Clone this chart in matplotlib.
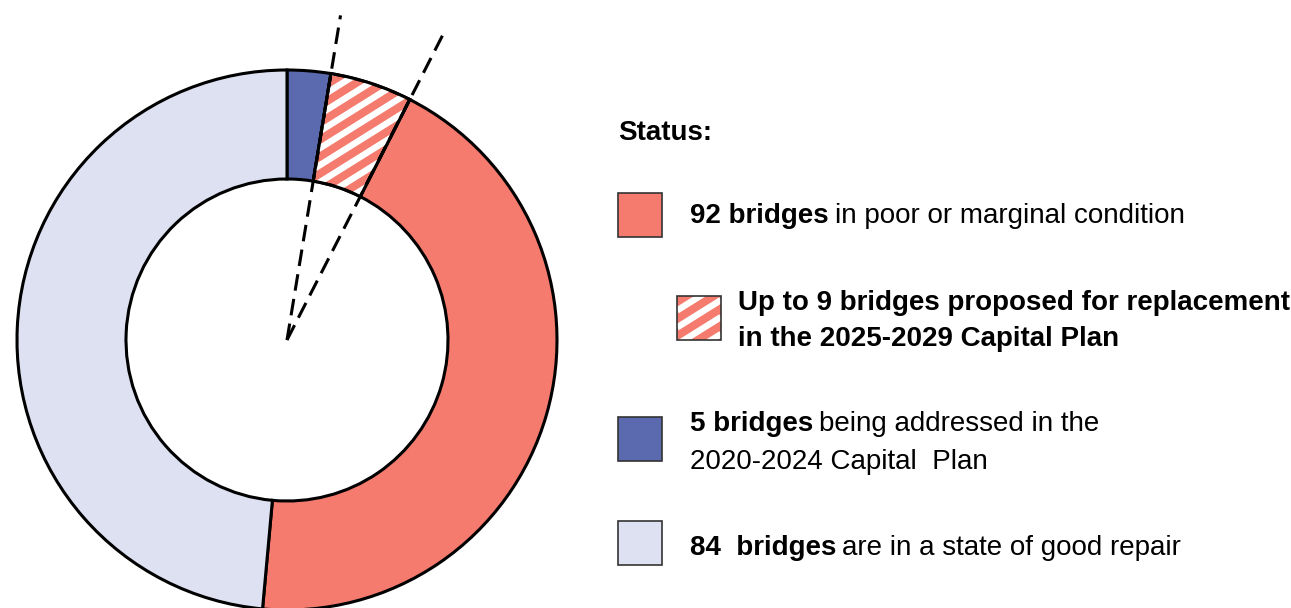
import matplotlib
matplotlib.use('Agg')
import numpy as np
import matplotlib.pyplot as plt
from matplotlib.patches import Wedge, Rectangle

W, H = 1291, 608

# wedge sizes as drawn (clockwise from 12 o'clock)
segments = ['addressed 2020-2024', 'proposed 2025-2029', 'poor or marginal', 'good repair']
sizes = [4.5, 8.5, 76, 84]
colors = ['#5B6AAE', '#F47B6E', '#F47B6E', '#DDE1F2']

# legend entries: (bold part, regular part, second line)
legend_rows = [
    ('92 bridges', 'in poor or marginal condition', None),
    ('Up to 9 bridges proposed for replacement', '', 'in the 2025-2029 Capital Plan'),
    ('5 bridges', 'being addressed in the', '2020-2024 Capital  Plan'),
    ('84  bridges', 'are in a state of good repair', None),
]

plt.rcParams['lines.scale_dashes'] = False
FONT = ['Liberation Sans', 'DejaVu Sans']

fig = plt.figure(figsize=(W / 100, H / 100), dpi=100)
ax = fig.add_axes([0, 0, 1, 1])

cx, cy = 287, H - 340
r_out, r_in = 270, 161
EDGE = 2.2

wedges, _ = ax.pie(sizes, colors=colors, radius=r_out, center=(cx, cy),
                   startangle=90, counterclock=False,
                   wedgeprops=dict(width=r_out - r_in, edgecolor='black', linewidth=EDGE))


def stripes(patch, x0, x1, y0, y1, period=17, angle=32, lw=4.6, phase=0):
    # white diagonal stripes clipped to a patch
    slope = np.tan(np.deg2rad(angle))
    for c in np.arange(y0 - slope * (x1 - x0) + phase, y1 + period, period):
        ln, = ax.plot([x0, x1], [c, c + slope * (x1 - x0)], color='white',
                      lw=lw, solid_capstyle='butt', zorder=2)
        ln.set_clip_path(patch)


# hatched wedge: white stripes on salmon, then a black outline on top
hw = wedges[1]
stripes(hw, cx, cx + r_out, cy, cy + r_out)
ax.add_patch(Wedge(hw.center, hw.r, hw.theta1, hw.theta2, width=hw.width,
                   fill=False, edgecolor='black', linewidth=EDGE, zorder=3))

# dashed lines along the boundaries of the hatched wedge
total = sum(sizes)
for cum, length in [(sizes[0], 329), (sizes[0] + sizes[1], 347)]:
    ang = np.deg2rad(90 - cum / total * 360)
    ax.plot([cx, cx + length * np.cos(ang)], [cy, cy + length * np.sin(ang)],
            color='black', lw=2.2, dashes=(12, 6), solid_capstyle='butt', zorder=4)

ax.set_xlim(0, W)
ax.set_ylim(0, H)
ax.set_aspect('equal')
ax.axis('off')

renderer = fig.canvas.get_renderer()
fs = 20


def put(x, y, s, weight):
    return ax.text(x, H - y, s, fontsize=fs, fontweight=weight, family=FONT,
                   ha='left', va='baseline')


def rich(x, y, bold, regular, gap=6):
    t = put(x, y, bold, 'bold')
    if regular:
        bb = t.get_window_extent(renderer)
        put(x + bb.width + gap, y, regular, 'normal')


put(618, 140, 'Status:', 'bold')

# legend swatches
swatches = [(618, 193), (677, 296), (618, 417), (618, 521)]
sw_face = [colors[2], colors[1], colors[0], colors[3]]
for i, (sx, sy) in enumerate(swatches):
    rect = Rectangle((sx, H - sy - 44), 44, 44, facecolor=sw_face[i],
                     edgecolor='none', zorder=1)
    ax.add_patch(rect)
    if i == 1:
        stripes(rect, sx, sx + 44, H - sy - 44, H - sy, phase=6)
    ax.add_patch(Rectangle((sx, H - sy - 44), 44, 44, fill=False,
                           edgecolor='#333333', linewidth=1.2, zorder=3))

rich(690, 223, legend_rows[0][0], legend_rows[0][1])
put(738, 310, legend_rows[1][0], 'bold')
put(738, 346, legend_rows[1][2], 'bold')
rich(690, 431, legend_rows[2][0], legend_rows[2][1])
put(690, 469, legend_rows[2][2], 'normal')
rich(690, 555, legend_rows[3][0], legend_rows[3][1])

fig.savefig('out.png', dpi=100, facecolor='white')
